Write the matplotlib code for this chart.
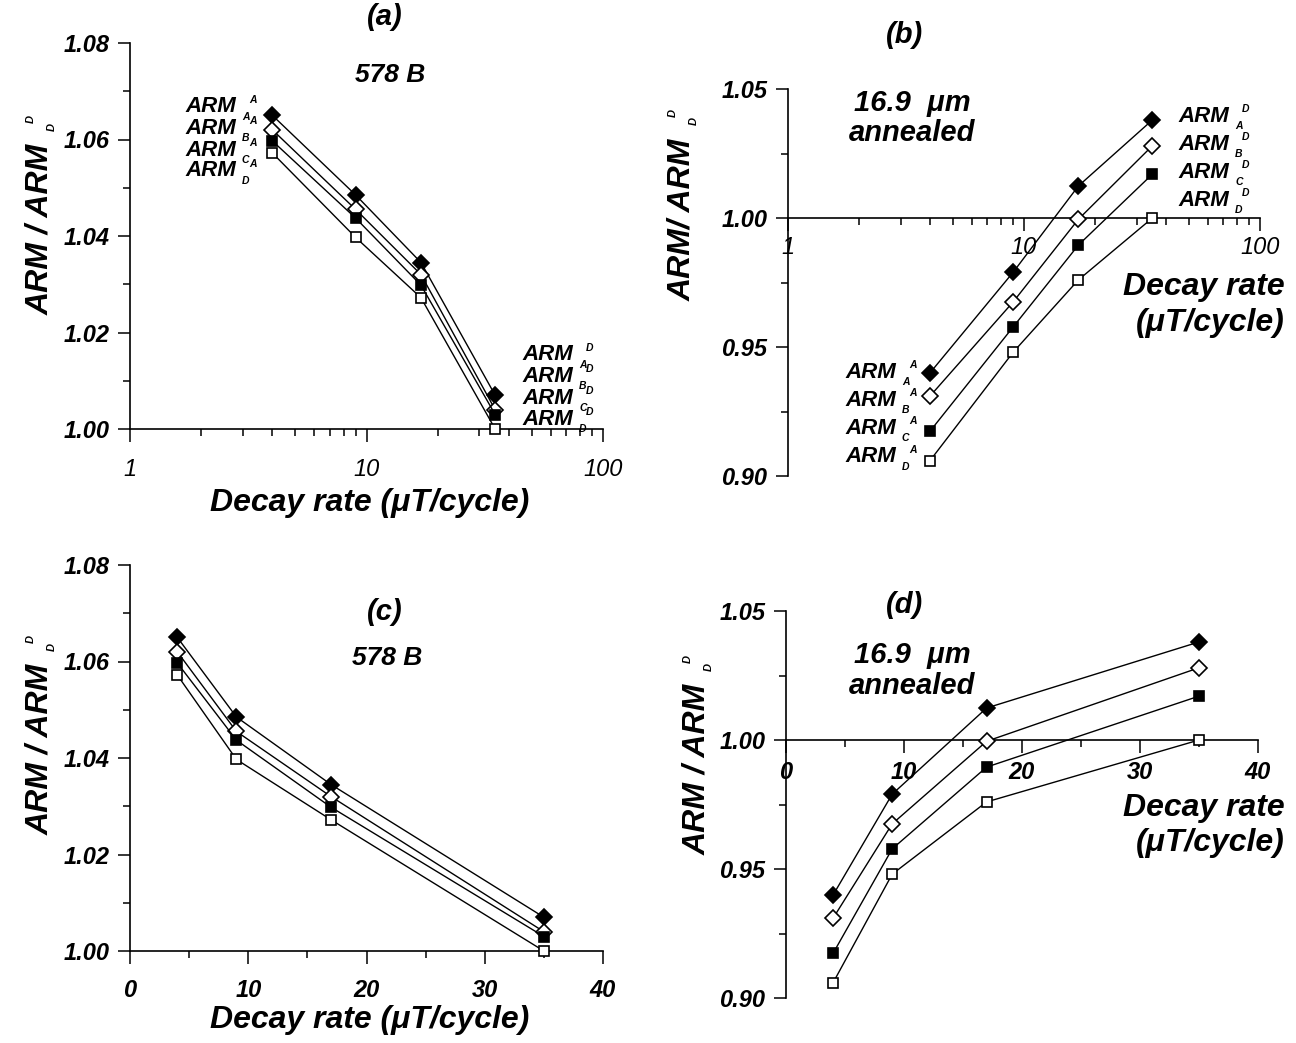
import matplotlib
matplotlib.use('Agg')
import matplotlib.pyplot as plt
from matplotlib.ticker import MultipleLocator, FixedLocator, NullFormatter, FormatStrFormatter

W, H = 1296, 1043
plt.rcParams['font.family'] = ['Liberation Sans', 'DejaVu Sans']

# decay rates (uT/cycle)
decay = [4, 9, 17, 35]

# sample 578 B, ARM_X^A / ARM_D^D
b578_A = [1.065, 1.0485, 1.0345, 1.007]
b578_B = [1.062, 1.0455, 1.032, 1.004]
b578_C = [1.0597, 1.0437, 1.0298, 1.003]
b578_D = [1.0572, 1.0397, 1.0272, 1.000]

# 16.9 um annealed
ann_A = [0.940, 0.979, 1.0124, 1.038]
ann_B = [0.931, 0.9675, 0.9995, 1.028]
ann_C = [0.9174, 0.9578, 0.9895, 1.017]
ann_D = [0.906, 0.948, 0.976, 1.000]

labels = ['A', 'B', 'C', 'D']
marker_style = [('D', 'black'), ('D', 'white'), ('s', 'black'), ('s', 'white')]

fig = plt.figure(figsize=(W / 100, H / 100), dpi=100)
renderer = fig.canvas.get_renderer()

BI = dict(weight='bold', style='italic')
TICK_FS = 17


def box(left, top, right, bottom):
    return [left / W, 1 - bottom / H, (right - left) / W, (bottom - top) / H]


def ftext(x, y, s, **kw):
    return fig.text(x / W, 1 - y / H, s, **kw)


def style_axes(ax):
    for side in ['top', 'right']:
        ax.spines[side].set_visible(False)
    for side in ['left', 'bottom']:
        ax.spines[side].set_linewidth(1.2)
    ax.tick_params(which='major', direction='out', length=9, width=1.1, colors='black')
    ax.tick_params(which='minor', direction='out', length=5, width=1.1, colors='black')
    for lab in ax.get_yticklabels():
        lab.set_fontsize(TICK_FS)
        lab.set_fontweight('bold')
        lab.set_fontstyle('italic')


def bold_xticks(ax):
    for lab in ax.get_xticklabels():
        lab.set_fontsize(TICK_FS)
        lab.set_fontweight('bold')
        lab.set_fontstyle('italic')


def draw_series(ax, series):
    for vals, (m, fc) in zip(series, marker_style):
        ms = 8.5 if m == 'D' else 7.5
        ax.plot(decay, vals, color='black', lw=1.0, marker=m, ms=ms,
                mfc=fc, mec='black', mew=1.2, clip_on=False, zorder=3)


def arm_row(x, y, sub, sup, size=16):
    t = ftext(x, y, 'ARM', fontsize=size, ha='left', va='center', **BI)
    xe = t.get_window_extent(renderer).x1
    ftext(xe + 10, y + 10, sub, fontsize=7.5, ha='center', va='center', **BI)
    ftext(xe + 17, y - 7, sup, fontsize=7.5, ha='center', va='center', **BI)


def ylab(xc, yc, s, size=23):
    t = ftext(xc, yc, s, fontsize=size, rotation=90, ha='center', va='center', **BI)
    top = H - t.get_window_extent(renderer).y1
    ftext(xc + 12, top - 8, 'D', fontsize=8, rotation=90, ha='center', va='center', **BI)
    ftext(xc - 9, top - 16, 'D', fontsize=8, rotation=90, ha='center', va='center', **BI)


# ---------------- (a) ----------------
ax_a = fig.add_axes(box(130, 43, 603, 429))
ax_a.set_xscale('log')
ax_a.set_xlim(1, 100)
ax_a.set_ylim(1.0, 1.08)
ax_a.yaxis.set_major_locator(MultipleLocator(0.02))
ax_a.yaxis.set_minor_locator(MultipleLocator(0.01))
ax_a.yaxis.set_major_formatter(FormatStrFormatter('%.2f'))
ax_a.xaxis.set_major_locator(FixedLocator([1, 10, 100]))
ax_a.xaxis.set_minor_formatter(NullFormatter())
ax_a.set_xticklabels(['1', '10', '100'], fontsize=TICK_FS, style='italic')
draw_series(ax_a, [b578_A, b578_B, b578_C, b578_D])
style_axes(ax_a)
ax_a.tick_params(axis='x', pad=12)
ax_a.tick_params(axis='y', pad=6)

# ---------------- (b) ----------------
ax_b = fig.add_axes(box(788, 89, 1260, 476))
ax_b.set_xscale('log')
ax_b.set_xlim(1, 100)
ax_b.set_ylim(0.90, 1.05)
ax_b.spines['bottom'].set_position(('data', 1.0))
ax_b.yaxis.set_major_locator(MultipleLocator(0.05))
ax_b.yaxis.set_minor_locator(MultipleLocator(0.025))
ax_b.yaxis.set_major_formatter(FormatStrFormatter('%.2f'))
ax_b.xaxis.set_major_locator(FixedLocator([1, 10, 100]))
ax_b.xaxis.set_minor_formatter(NullFormatter())
ax_b.set_xticklabels(['1', '10', '100'], fontsize=TICK_FS, style='italic')
draw_series(ax_b, [ann_A, ann_B, ann_C, ann_D])
style_axes(ax_b)
ax_b.tick_params(axis='x', pad=4)
ax_b.tick_params(axis='y', pad=6)

# ---------------- (c) ----------------
ax_c = fig.add_axes(box(130, 565, 603, 951))
ax_c.set_xlim(0, 40)
ax_c.set_ylim(1.0, 1.08)
ax_c.xaxis.set_major_locator(MultipleLocator(10))
ax_c.xaxis.set_minor_locator(MultipleLocator(5))
ax_c.yaxis.set_major_locator(MultipleLocator(0.02))
ax_c.yaxis.set_minor_locator(MultipleLocator(0.01))
ax_c.yaxis.set_major_formatter(FormatStrFormatter('%.2f'))
draw_series(ax_c, [b578_A, b578_B, b578_C, b578_D])
style_axes(ax_c)
bold_xticks(ax_c)
ax_c.tick_params(axis='x', pad=11)
ax_c.tick_params(axis='y', pad=6)

# ---------------- (d) ----------------
ax_d = fig.add_axes(box(786, 611, 1258, 998))
ax_d.set_xlim(0, 40)
ax_d.set_ylim(0.90, 1.05)
ax_d.spines['bottom'].set_position(('data', 1.0))
ax_d.xaxis.set_major_locator(MultipleLocator(10))
ax_d.xaxis.set_minor_locator(MultipleLocator(5))
ax_d.yaxis.set_major_locator(MultipleLocator(0.05))
ax_d.yaxis.set_minor_locator(MultipleLocator(0.025))
ax_d.yaxis.set_major_formatter(FormatStrFormatter('%.2f'))
draw_series(ax_d, [ann_A, ann_B, ann_C, ann_D])
style_axes(ax_d)
bold_xticks(ax_d)
ax_d.tick_params(axis='x', pad=6)
ax_d.tick_params(axis='y', pad=6)

# ---------------- texts ----------------
ftext(385, 17, '(a)', fontsize=21, ha='center', va='center', **BI)
ftext(390, 75, '578 B', fontsize=19, ha='center', va='center', **BI)
ftext(905, 35, '(b)', fontsize=21, ha='center', va='center', **BI)
ftext(912, 103, '16.9  μm', fontsize=21, ha='center', va='center', **BI)
ftext(912, 133, 'annealed', fontsize=21, ha='center', va='center', **BI)
ftext(385, 612, '(c)', fontsize=21, ha='center', va='center', **BI)
ftext(387, 658, '578 B', fontsize=19, ha='center', va='center', **BI)
ftext(905, 605, '(d)', fontsize=21, ha='center', va='center', **BI)
ftext(912, 655, '16.9  μm', fontsize=21, ha='center', va='center', **BI)
ftext(912, 686, 'annealed', fontsize=21, ha='center', va='center', **BI)

ftext(370, 503, 'Decay rate (μT/cycle)', fontsize=23, ha='center', va='center', **BI)
ftext(370, 1020, 'Decay rate (μT/cycle)', fontsize=23, ha='center', va='center', **BI)
ftext(1285, 287, 'Decay rate', fontsize=23, ha='right', va='center', **BI)
ftext(1285, 323, '(μT/cycle)', fontsize=23, ha='right', va='center', **BI)
ftext(1285, 808, 'Decay rate', fontsize=23, ha='right', va='center', **BI)
ftext(1285, 843, '(μT/cycle)', fontsize=23, ha='right', va='center', **BI)

ylab(40, 225, 'ARM / ARM ')
ylab(682, 215, 'ARM/ ARM ')
ylab(40, 745, 'ARM / ARM ')
ylab(697, 765, 'ARM / ARM ')

# row labels
for lab, y in zip(labels, [107, 128, 150, 171]):
    arm_row(185, y, lab, 'A')
for lab, y in zip(labels, [355, 376, 398, 419]):
    arm_row(522, y, lab, 'D')
for lab, y in zip(labels, [116, 144, 172, 200]):
    arm_row(1178, y, lab, 'D')
for lab, y in zip(labels, [372, 400, 428, 457]):
    arm_row(845, y, lab, 'A')

fig.savefig('out.png', dpi=100)
